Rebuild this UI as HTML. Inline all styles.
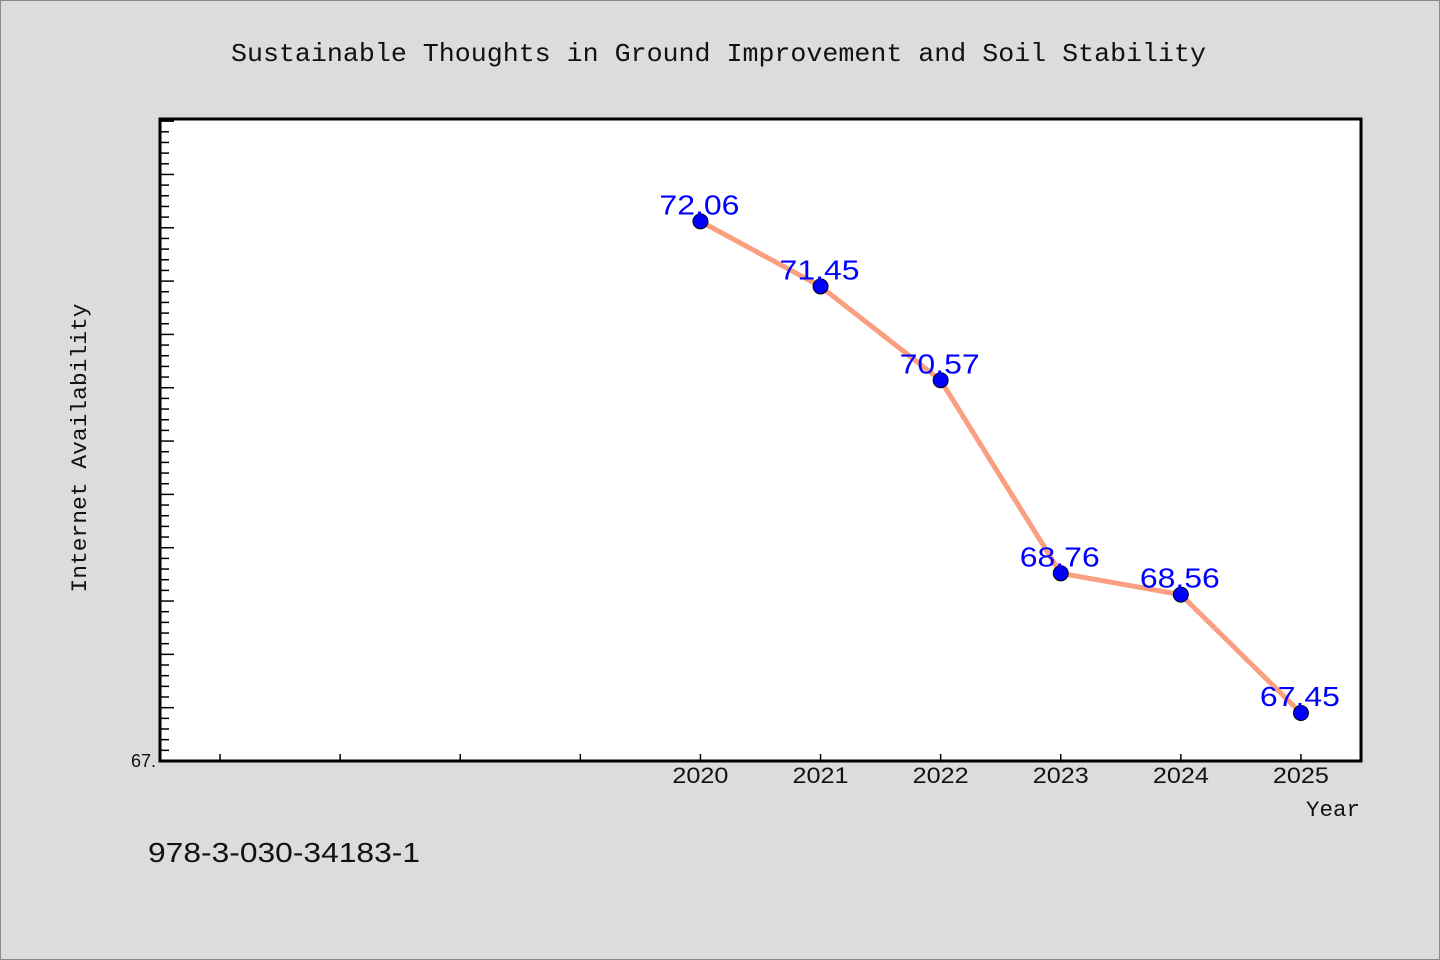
<!DOCTYPE html>
<html><head><meta charset="utf-8"><style>
body{margin:0;background:#dcdcdc;}
svg{display:block;font-family:"Liberation Mono","DejaVu Sans Mono",monospace;}
</style></head><body>
<svg id="chart" width="1440" height="960">
<rect x="0.5" y="0.5" width="1439" height="959" fill="#dcdcdc" stroke="#888"/>
<text x="231" y="61" textLength="975" lengthAdjust="spacingAndGlyphs" font-size="26" fill="#111">Sustainable Thoughts in Ground Improvement and Soil Stability</text>
<rect x="160" y="119" width="1201" height="642" fill="#fff" stroke="#000" stroke-width="3"/>
<g id="axes"></g>
<g id="series"></g>
<text x="86" y="448" text-anchor="middle" font-size="22" fill="#111" textLength="289" lengthAdjust="spacingAndGlyphs" transform="rotate(-90 86 448)">Internet Availability</text>
<text x="1306" y="816" font-size="22" fill="#111" textLength="54" lengthAdjust="spacingAndGlyphs">Year</text>
<text x="148" y="862" font-size="28" fill="#111" textLength="272" lengthAdjust="spacingAndGlyphs" font-family="Liberation Sans, sans-serif">978-3-030-34183-1</text>
</svg>
<script>
const years = [2020, 2021, 2022, 2023, 2024, 2025];
const values = [72.06, 71.45, 70.57, 68.76, 68.56, 67.45];
const valueLabels = ["72.06", "71.45", "70.57", "68.76", "68.56", "67.45"];
const xTicks = [2016, 2017, 2018, 2019, 2020, 2021, 2022, 2023, 2024, 2025];
const xTickLabels = ["", "", "", "", "2020", "2021", "2022", "2023", "2024", "2025"];
const NS = "http://www.w3.org/2000/svg";
const L = 160, R = 1361, T = 119, B = 761;
const xMin = 2015.5, xMax = 2025.5, yMin = 67, yMax = 73.02;
const xs = v => L + (v - xMin) / (xMax - xMin) * (R - L);
const ys = v => B - (v - yMin) / (yMax - yMin) * (B - T);
function mk(tag, attrs, parent) { const e = document.createElementNS(NS, tag); for (const k in attrs) e.setAttribute(k, attrs[k]); parent.appendChild(e); return e; }
const axes = document.getElementById('axes');
for (let i = 1; i <= 60; i++) {
  const v = yMin + i * 0.1; const y = ys(v); if (y < T + 2) break;
  const major = i % 5 === 0;
  const t = mk('line', {x1: L, x2: L + (major ? 14 : 9), y1: y, y2: y, stroke: '#000', 'stroke-width': 1.5}, axes);
  
  
}
const y0 = mk('text', {x: 156, y: 767, 'text-anchor': 'end', 'font-size': 18, fill: '#111', 'font-family': 'Liberation Sans, sans-serif'}, axes);
y0.textContent = '67.';


xTicks.forEach((v, i) => {
  const x = xs(v);
  const t = mk('line', {x1: x, x2: x, y1: B, y2: B - 7, stroke: '#000', 'stroke-width': 1.5}, axes);
  
  
  if (xTickLabels[i]) {
    const tx = mk('text', {x: x - 28, y: 783, 'font-size': 22, textLength: 56, lengthAdjust: 'spacingAndGlyphs', fill: '#111', 'font-family': 'Liberation Sans, sans-serif'}, axes);
    tx.textContent = xTickLabels[i];
    
    
  }
});
const ser = document.getElementById('series');
const line = mk('polyline', {points: years.map((y, i) => xs(y) + ',' + ys(values[i])).join(' '), fill: 'none', stroke: '#fa9f7f', 'stroke-width': 5, 'stroke-linejoin': 'round'}, ser);


years.forEach((y, i) => {
  const c = mk('circle', {cx: xs(y), cy: ys(values[i]), r: 7.5, fill: '#0000ff', stroke: '#000', 'stroke-width': 1}, ser);
  
  
  const t = mk('text', {x: xs(y) - 41, y: ys(values[i]) - 7, 'font-size': 28, textLength: 80, lengthAdjust: 'spacingAndGlyphs', fill: '#0000ff', 'font-family': 'Liberation Sans, sans-serif'}, ser);
  t.textContent = valueLabels[i];
  
  
});
</script>
</body></html>
